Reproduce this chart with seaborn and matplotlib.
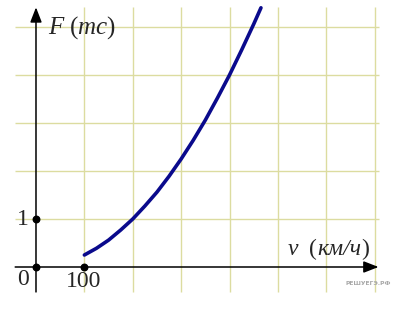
import matplotlib
matplotlib.use("Agg")
import matplotlib.pyplot as plt
import seaborn as sns
import pandas as pd

# Data: speed v (km/h) and F (tc)
speed = [100, 125, 150, 175, 200, 225, 250, 275, 300, 325, 350, 375, 400, 425, 450, 465]
force = [0.25, 0.39, 0.56, 0.77, 1.0, 1.27, 1.56, 1.89, 2.25, 2.64, 3.06, 3.52, 4.0, 4.52, 5.06, 5.4]
grid_x = [100, 200, 300, 400, 500, 600, 700]
grid_y = [1, 2, 3, 4, 5]
marked_points_x = [0, 0, 100]
marked_points_y = [0, 1, 0]

sns.set_style("white")
plt.rcParams['font.family'] = ['Liberation Serif', 'DejaVu Serif']
plt.rcParams['mathtext.fontset'] = 'custom'
plt.rcParams['mathtext.rm'] = 'Liberation Serif'
plt.rcParams['mathtext.it'] = 'Liberation Serif:italic'

df = pd.DataFrame({"v": speed, "F": force})

fig = plt.figure(figsize=(3.94, 3.09), dpi=100)
ax = fig.add_axes([0, 0, 1, 1])
ax.set_xlim(-74.4, 740)
ax.set_ylim(-0.875, 5.5625)
for s in ax.spines.values():
    s.set_visible(False)
ax.set_xticks([]); ax.set_yticks([])

gcol = '#dcdca0'
ax.vlines(grid_x, -0.52, 5.42, color=gcol, lw=1.0, zorder=1)
ax.hlines(grid_y, -43, 709, color=gcol, lw=1.0, zorder=1)

# axes with arrows
ax.annotate('', xy=(708, 0), xytext=(-43, 0),
            arrowprops=dict(arrowstyle='-|>,head_length=0.9,head_width=0.35', color='black', lw=1.1,
                            shrinkA=0, shrinkB=0), zorder=3)
ax.annotate('', xy=(0, 5.41), xytext=(0, -0.52),
            arrowprops=dict(arrowstyle='-|>,head_length=0.9,head_width=0.35', color='black', lw=1.1,
                            shrinkA=0, shrinkB=0), zorder=3)

sns.lineplot(data=df, x="v", y="F", ax=ax, color='#0a0a8c', lw=2.6, zorder=4)
ax.scatter(marked_points_x, marked_points_y, s=22, color='black', zorder=5)
ax.set_xlabel(''); ax.set_ylabel('')

ax.text(24, 4.87, r'$F\ (mc)$', fontsize=18, va='baseline', ha='left')
ax.text(-14, 0.98, '1', fontsize=17, va='center', ha='right')
ax.text(-27, -0.27, '0', fontsize=17, va='center', ha='center')
ax.text(99, -0.31, '100', fontsize=17, va='center', ha='center')
ax.text(520, 0.24, 'v', fontsize=17, style='italic', va='baseline', ha='left')
ax.text(564, 0.24, '(', fontsize=17, va='baseline', ha='left')
ax.text(581, 0.24, 'км/ч', fontsize=17, style='italic', va='baseline', ha='left')
ax.text(672, 0.24, ')', fontsize=17, va='baseline', ha='left')
ax.text(640, -0.35, 'РЕШУЕГЭ.РФ', fontsize=4.3, fontweight='bold', color='#a8a8a8',
        family=['DejaVu Sans'], va='center', ha='left')

fig.savefig('out.png', dpi=100)
